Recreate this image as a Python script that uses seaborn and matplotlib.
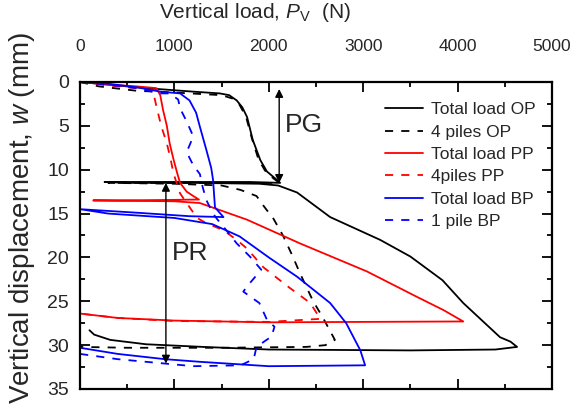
import matplotlib
matplotlib.use('Agg')
import matplotlib.pyplot as plt
from matplotlib.ticker import MultipleLocator
import seaborn as sns

# --- data (load in N, displacement in mm) ---
op_total_x = [0, 300, 700, 1200, 1480, 1580, 1660, 1720, 1770, 1830, 1910, 1980, 2090, 2120,
              1800, 1000, 500, 260,
              500, 1200, 1900, 2100, 2300, 2650, 3180, 3500, 3840, 4060, 4450, 4560, 4630,
              4400, 3500, 2000, 1300, 700, 320, 150, 100]
op_total_y = [0, 0.3, 0.7, 1.1, 1.3, 1.5, 2.1, 2.9, 4.0, 6.6, 8.9, 10.2, 11.2, 11.5,
              11.4, 11.4, 11.4, 11.4,
              11.5, 11.5, 11.6, 11.8, 12.6, 15.4, 18.0, 19.9, 22.6, 25.2, 29.1, 29.6, 30.2,
              30.5, 30.6, 30.5, 30.2, 29.9, 29.4, 28.8, 28.3]

op_piles_x = [0, 200, 600, 1000, 1500, 1620, 1690, 1760, 1820, 1890, 1960, 2050, 2100, 2110,
              1500, 800, 300,
              1000, 1500, 1700, 1870, 1950, 2050, 2150, 2250, 2330, 2470, 2570, 2650, 2700,
              2600, 2400, 1500, 500, 0]
op_piles_y = [0, 0.5, 1.0, 1.2, 1.5, 1.9, 2.6, 4.0, 6.4, 8.8, 10.1, 11.0, 11.4, 11.5,
              11.5, 11.5, 11.5,
              11.6, 11.8, 12.3, 13.0, 14.2, 15.6, 17.5, 19.8, 21.8, 25.0, 26.8, 28.4, 29.4,
              30.0, 30.2, 30.3, 30.3, 30.2]

pp_total_x = [0, 300, 600, 810, 850, 880, 920, 950, 990, 1030, 1060, 1130, 1200, 1260,
              900, 400, 140,
              600, 1000, 1270, 1770, 2330, 3040, 3570, 3850, 4060,
              3000, 2000, 1000, 400, 0]
pp_total_y = [0, 0.3, 0.5, 0.7, 1.5, 3.2, 5.0, 7.0, 8.8, 10.4, 11.5, 12.5, 13.0, 13.4,
              13.45, 13.5, 13.5,
              13.55, 13.6, 13.8, 15.7, 18.4, 21.6, 24.5, 26.0, 27.3,
              27.35, 27.4, 27.2, 26.9, 26.4]

pp_piles_x = [0, 300, 600, 770, 810, 860, 920, 960, 990, 1060, 1130, 1240, 1340, 1520, 1660,
              1770, 1940, 2200, 2440, 2510, 2550,
              2000, 1000, 400, 0]
pp_piles_y = [0, 0.4, 0.7, 0.9, 2.8, 5.0, 7.0, 8.8, 10.4, 12.7, 13.8, 15.5, 16.1, 16.9, 18.0,
              19.0, 21.1, 23.3, 25.2, 26.4, 27.0,
              27.35, 27.25, 26.9, 26.4]

bp_total_x = [0, 300, 600, 850, 1060, 1160, 1230, 1270, 1340, 1390, 1410, 1420, 1430, 1520,
              1160, 600, 0,
              300, 1000, 1400, 1690, 2000, 2300, 2650, 2820, 2970, 3020,
              2000, 1270, 900, 400, 0]
bp_total_y = [0, 0.2, 0.6, 1.1, 1.3, 2.1, 3.5, 5.1, 7.8, 9.8, 11.2, 12.8, 14.3, 15.4,
              15.3, 14.9, 14.5,
              15.0, 15.5, 16.2, 17.6, 20.0, 22.2, 25.2, 27.5, 30.6, 32.3,
              32.4, 31.9, 31.6, 31.0, 30.3]

bp_pile_x = [0, 300, 600, 850, 950, 1040, 1060, 1130, 1200, 1130, 1200, 1270, 1300, 1340,
             1410, 1450, 1520, 1660, 1800, 1920, 1770, 1730, 1900, 1980, 2060, 2030, 1870, 1840,
             1700, 1200, 900, 400, 0]
bp_pile_y = [0, 0.3, 0.7, 1.3, 1.3, 2.0, 3.0, 4.5, 6.2, 8.0, 9.5, 10.5, 12.0, 13.5,
             15.0, 15.6, 16.5, 18.4, 19.9, 21.4, 23.3, 23.9, 25.2, 27.1, 27.9, 29.0, 30.2, 31.6,
             32.3, 32.4, 32.1, 31.6, 31.0]

series = [
    ('Total load OP', op_total_x, op_total_y, 'black', '-'),
    ('4 piles OP', op_piles_x, op_piles_y, 'black', (0, (4.5, 4.5))),
    ('Total load PP', pp_total_x, pp_total_y, 'red', '-'),
    ('4piles PP', pp_piles_x, pp_piles_y, 'red', (0, (4.5, 4.5))),
    ('Total load BP', bp_total_x, bp_total_y, 'blue', '-'),
    ('1 pile BP', bp_pile_x, bp_pile_y, 'blue', (0, (4.5, 4.5))),
]

sns.set_theme(style="ticks")
plt.rcParams['font.family'] = ['Liberation Sans', 'DejaVu Sans']
plt.rcParams['mathtext.fontset'] = 'custom'
plt.rcParams['mathtext.rm'] = 'Liberation Sans'
plt.rcParams['mathtext.it'] = 'Liberation Sans:italic'

fig = plt.figure(figsize=(5.81, 4.08), dpi=100)
ax = fig.add_axes([80 / 581, 1 - 389 / 408, 472 / 581, 307 / 408])

for label, xs, ys, color, ls in series:
    sns.lineplot(x=xs, y=ys, sort=False, estimator=None, color=color, lw=1.3,
                 linestyle=ls, label=label, ax=ax)

ax.set_xlim(0, 5000)
ax.set_ylim(35, 0)
ax.xaxis.set_major_locator(MultipleLocator(1000))
ax.xaxis.set_minor_locator(MultipleLocator(500))
ax.yaxis.set_major_locator(MultipleLocator(5))
ax.yaxis.set_minor_locator(MultipleLocator(2.5))
ax.tick_params(which='both', direction='in', top=True, bottom=True, left=True, right=True,
               labeltop=True, labelbottom=False, width=1.3, color='black')
ax.tick_params(which='major', length=7)
ax.tick_params(which='minor', length=3.8)
ax.tick_params(axis='x', labelsize=12.5, pad=20)
ax.tick_params(axis='y', labelsize=14, pad=8)
for sp in ax.spines.values():
    sp.set_linewidth(1.6)
    sp.set_color('black')
ax.set_xlabel('')
ax.set_ylabel('')

fig.text(255 / 581, 1 - 13 / 408, r'Vertical load, $\mathit{P}_\mathrm{V}$  (N)',
         ha='center', va='center', fontsize=15)
fig.text(22 / 581, 1 - 218 / 408, r'Vertical displacement, $\mathit{w}$ (mm)',
         ha='center', va='center', rotation=90, fontsize=20)

# PG and PR arrows
arrow = dict(arrowstyle='<|-|>', color='black', lw=1.0, mutation_scale=12,
             shrinkA=0, shrinkB=0)
ax.annotate('', xy=(2110, 0.8), xytext=(2110, 11.5), arrowprops=arrow)
ax.annotate('', xy=(910, 11.5), xytext=(910, 32.1), arrowprops=arrow)
ax.text(2170, 4.9, 'PG', fontsize=19, ha='left', va='center')
ax.text(970, 19.5, 'PR', fontsize=19, ha='left', va='center')

ax.legend(loc='upper left', bbox_to_anchor=(385 / 581, 1 - 102 / 408),
          bbox_transform=fig.transFigure, frameon=False, borderpad=0, borderaxespad=0,
          fontsize=12.5, handlelength=2.2, handletextpad=0.45, labelspacing=0.42)

fig.savefig('out.png', dpi=100)
